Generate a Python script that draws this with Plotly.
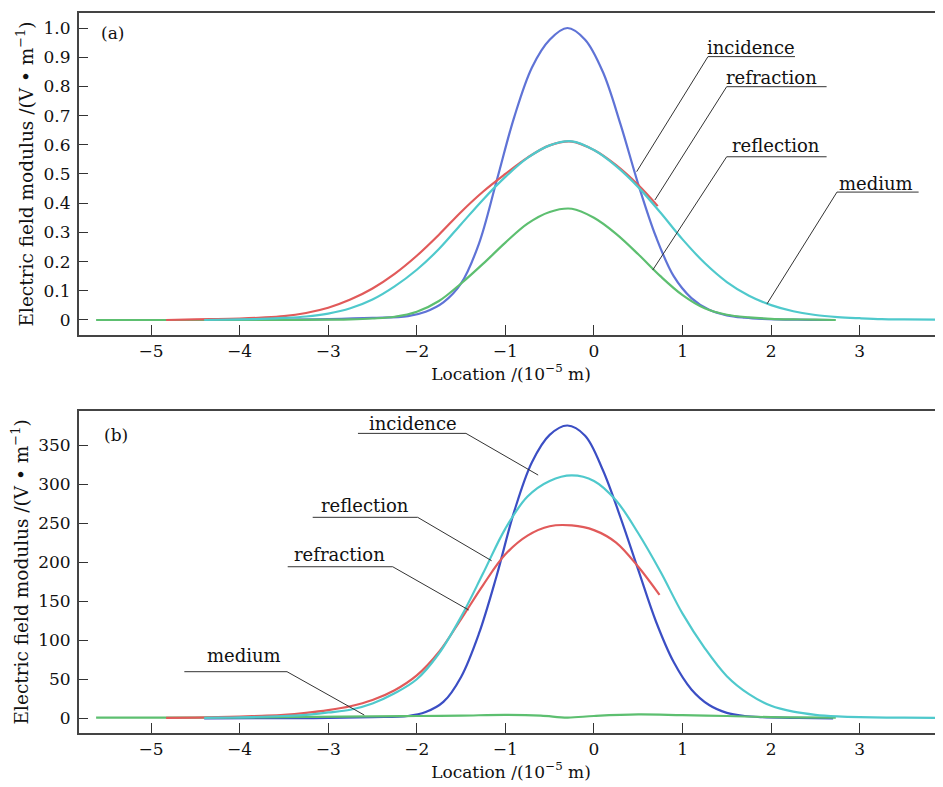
import plotly.graph_objects as go

# ---------------- data: panel (a) ----------------
a_inc_x = [-4.4, -3.5, -3.0, -2.5, -2.1, -1.9, -1.7, -1.5, -1.3, -1.1, -0.9, -0.7, -0.5, -0.3, -0.1, 0.1, 0.3, 0.5, 0.7, 0.9, 1.1, 1.3, 1.5, 1.7, 1.9, 2.3, 2.7]
a_inc_y = [0.0, 0.001, 0.003, 0.007, 0.013, 0.028, 0.06, 0.125, 0.26, 0.475, 0.695, 0.865, 0.96, 1.0, 0.96, 0.85, 0.67, 0.465, 0.285, 0.15, 0.075, 0.035, 0.016, 0.008, 0.004, 0.001, 0.0]

a_rfl_x = [-5.62, -5.0, -4.5, -4.0, -3.5, -3.0, -2.75, -2.5, -2.25, -2.0, -1.75, -1.5, -1.25, -1.0, -0.75, -0.5, -0.25, 0.0, 0.25, 0.5, 0.75, 1.0, 1.25, 1.5, 1.75, 2.0, 2.25, 2.5, 2.73]
a_rfl_y = [0.0, 0.0, 0.0, 0.0, 0.0, 0.001, 0.002, 0.005, 0.011, 0.028, 0.065, 0.125, 0.193, 0.265, 0.33, 0.37, 0.381, 0.35, 0.295, 0.225, 0.15, 0.085, 0.04, 0.018, 0.009, 0.004, 0.002, 0.001, 0.0]

a_ref_x = [-4.83, -4.5, -4.25, -4.0, -3.75, -3.5, -3.25, -3.0, -2.75, -2.5, -2.25, -2.0, -1.75, -1.5, -1.25, -1.0, -0.75, -0.5, -0.25, 0.0, 0.25, 0.5, 0.72]
a_ref_y = [0.0, 0.002, 0.003, 0.005, 0.008, 0.013, 0.024, 0.042, 0.07, 0.108, 0.158, 0.22, 0.292, 0.37, 0.44, 0.50, 0.556, 0.598, 0.611, 0.582, 0.53, 0.462, 0.39]

a_med_x = [-4.4, -4.0, -3.75, -3.5, -3.25, -3.0, -2.75, -2.5, -2.25, -2.0, -1.75, -1.5, -1.25, -1.0, -0.75, -0.5, -0.25, 0.0, 0.25, 0.5, 0.75, 1.0, 1.25, 1.5, 1.75, 2.0, 2.25, 2.5, 2.75, 3.0, 3.25, 3.5, 3.94]
a_med_y = [0.0, 0.002, 0.004, 0.007, 0.012, 0.022, 0.04, 0.07, 0.115, 0.172, 0.243, 0.328, 0.413, 0.49, 0.555, 0.598, 0.612, 0.582, 0.527, 0.455, 0.368, 0.276, 0.195, 0.13, 0.083, 0.051, 0.03, 0.017, 0.01, 0.006, 0.003, 0.002, 0.001]

# ---------------- data: panel (b) ----------------
b_inc_x = [-4.4, -3.5, -3.0, -2.5, -2.1, -1.9, -1.7, -1.5, -1.3, -1.1, -0.9, -0.7, -0.5, -0.3, -0.1, 0.1, 0.3, 0.5, 0.7, 0.9, 1.1, 1.3, 1.5, 1.7, 1.9, 2.3, 2.7]
b_inc_y = [0, 0.2, 0.5, 1.5, 3, 8, 21, 53, 108, 182, 265, 328, 363, 375, 362, 318, 257, 190, 124, 72, 37, 17, 7, 3, 1.5, 0.5, 0]

b_med_x = [-5.62, -4.5, -3.5, -2.5, -2.0, -1.5, -1.0, -0.6, -0.3, 0.0, 0.5, 1.0, 1.5, 2.0, 2.73]
b_med_y = [1.0, 1.0, 1.5, 2.5, 3.0, 3.5, 4.5, 3.5, 1.0, 3.0, 5.0, 4.0, 3.0, 1.5, 1.0]

b_ref_x = [-4.83, -4.5, -4.25, -4.0, -3.75, -3.5, -3.25, -3.0, -2.75, -2.5, -2.25, -2.0, -1.75, -1.5, -1.25, -1.0, -0.75, -0.5, -0.25, 0.0, 0.25, 0.5, 0.74]
b_ref_y = [0.5, 1.0, 1.5, 2.2, 3.2, 4.5, 7.0, 10.5, 15.5, 23.5, 36, 55, 85, 127, 171, 210, 234, 246, 247, 241, 225, 194, 158]

b_rfl_x = [-4.4, -4.25, -4.0, -3.75, -3.5, -3.25, -3.0, -2.75, -2.5, -2.25, -2.0, -1.75, -1.5, -1.25, -1.0, -0.75, -0.5, -0.25, 0.0, 0.25, 0.5, 0.75, 1.0, 1.25, 1.5, 1.75, 2.0, 2.25, 2.5, 2.75, 3.0, 3.5, 3.94]
b_rfl_y = [0.6, 0.8, 1.2, 2.0, 3.0, 4.5, 7.5, 11, 19, 32, 50, 83, 130, 186, 243, 284, 304, 311, 304, 279, 237, 188, 134, 90, 54, 31, 16, 8.5, 4.5, 2.5, 1.5, 0.8, 0.5]

# ticks
x_ticks = [-5, -4, -3, -2, -1, 0, 1, 2, 3]
a_y_ticks = [0, 0.1, 0.2, 0.3, 0.4, 0.5, 0.6, 0.7, 0.8, 0.9, 1.0]
a_y_text = ["0", "0.1", "0.2", "0.3", "0.4", "0.5", "0.6", "0.7", "0.8", "0.9", "1.0"]
b_y_ticks = [0, 50, 100, 150, 200, 250, 300, 350]

# label callouts: (text, text_x, text_y, underline_x0, underline_x1, underline_y, end_x, end_y)
a_labels = [
    ("incidence", 1.772, 0.932, 1.287, 2.269, 0.902, 0.482, 0.508),
    ("refraction", 2.009, 0.829, 1.498, 2.626, 0.799, 0.688, 0.411),
    ("reflection", 2.054, 0.599, 1.498, 2.626, 0.559, 0.663, 0.171),
    ("medium", 3.183, 0.469, 2.743, 3.665, 0.438, 1.953, 0.055),
]
b_labels = [
    ("incidence", -2.043, 378.0, -2.664, -1.445, 364.9, -0.63, 311.5),
    ("reflection", -2.585, 273.1, -3.175, -1.99, 257.4, -1.155, 201.8),
    ("refraction", -2.878, 209.7, -3.457, -2.272, 194.1, -1.414, 138.7),
    ("medium", -3.950, 80.2, -4.624, -3.465, 59.7, -2.593, 4.2),
]

BLUE_A = "#5f73d6"
BLUE_B = "#3b4ec4"
RED = "#e15a5a"
CYAN = "#4fc9cc"
GREEN = "#5dbf70"
FONT = "DejaVu Serif"

fig = go.Figure()

def add(x, y, color, name, xa, ya):
    fig.add_trace(go.Scatter(x=x, y=y, mode="lines", name=name,
                             line=dict(color=color, width=2.2, shape="spline", smoothing=1.0),
                             xaxis=xa, yaxis=ya, showlegend=False))

# panel (a): draw order blue, green, red, cyan
add(a_inc_x, a_inc_y, BLUE_A, "incidence", "x", "y")
add(a_rfl_x, a_rfl_y, GREEN, "reflection", "x", "y")
add(a_ref_x, a_ref_y, RED, "refraction", "x", "y")
add(a_med_x, a_med_y, CYAN, "medium", "x", "y")

# panel (b)
add(b_inc_x, b_inc_y, BLUE_B, "incidence", "x2", "y2")
add(b_med_x, b_med_y, GREEN, "medium", "x2", "y2")
add(b_ref_x, b_ref_y, RED, "refraction", "x2", "y2")
add(b_rfl_x, b_rfl_y, CYAN, "reflection", "x2", "y2")

annotations = []
shapes = []

def callouts(labels, xr, yr, side):
    for (t, tx, ty, u0, u1, uy, ex, ey) in labels:
        annotations.append(dict(text=t, x=tx, y=ty, xref=xr, yref=yr, showarrow=False,
                                font=dict(family=FONT, size=18, color="#111")))
        if side == "left":
            path = f"M {u0} {uy} L {u1} {uy} L {ex} {ey}"
        else:
            path = f"M {u1} {uy} L {u0} {uy} L {ex} {ey}"
        shapes.append(dict(type="path", path=path, xref=xr, yref=yr,
                           line=dict(color="#333", width=1)))

callouts(a_labels, "x", "y", "right")
callouts(b_labels, "x2", "y2", "left")

annotations.append(dict(text="(a)", x=-5.43, y=0.983, xref="x", yref="y", showarrow=False,
                        font=dict(family=FONT, size=17, color="#111")))
annotations.append(dict(text="(b)", x=-5.40, y=362.7, xref="x2", yref="y2", showarrow=False,
                        font=dict(family=FONT, size=17, color="#111")))

xaxis_common = dict(range=[-5.813, 3.94], tickvals=x_ticks, ticks="inside", ticklen=10,
                    tickwidth=1.2, tickcolor="#333", showline=True, linecolor="#444",
                    linewidth=2, mirror=True, showgrid=False, zeroline=False, automargin=False,
                    tickfont=dict(family=FONT, size=17, color="#111"),
                    title=dict(text="Location /(10<sup>−5</sup> m)", standoff=7,
                               font=dict(family=FONT, size=17, color="#111")))
yaxis_common = dict(ticks="inside", ticklen=9, tickwidth=1.2, tickcolor="#333",
                    showline=True, linecolor="#444", linewidth=2, mirror=False,
                    showgrid=False, zeroline=False, automargin=False, ticklabelstandoff=3,
                    tickfont=dict(family=FONT, size=17, color="#111"),
                    title=dict(text="Electric field modulus /(V • m<sup>−1</sup>)", standoff=5,
                               font=dict(family=FONT, size=18.5, color="#111")))

# page body has an 8px default margin, so the figure is sized/offset to compensate
fig.update_layout(
    width=935, height=779,
    margin=dict(l=71, r=0, t=5, b=54),
    paper_bgcolor="white", plot_bgcolor="white",
    xaxis=dict(domain=[0, 1], anchor="y", **xaxis_common),
    yaxis=dict(domain=[0.5528, 1.0], anchor="x", range=[-0.0514, 1.0514],
               tickvals=a_y_ticks, ticktext=a_y_text, **yaxis_common),
    xaxis2=dict(domain=[0, 1], anchor="y2", **xaxis_common),
    yaxis2=dict(domain=[0.0, 0.4476], anchor="x2", range=[-18.8, 393.9],
                tickvals=b_y_ticks, **yaxis_common),
    annotations=annotations,
    shapes=shapes,
)

fig.write_html("out.html")
